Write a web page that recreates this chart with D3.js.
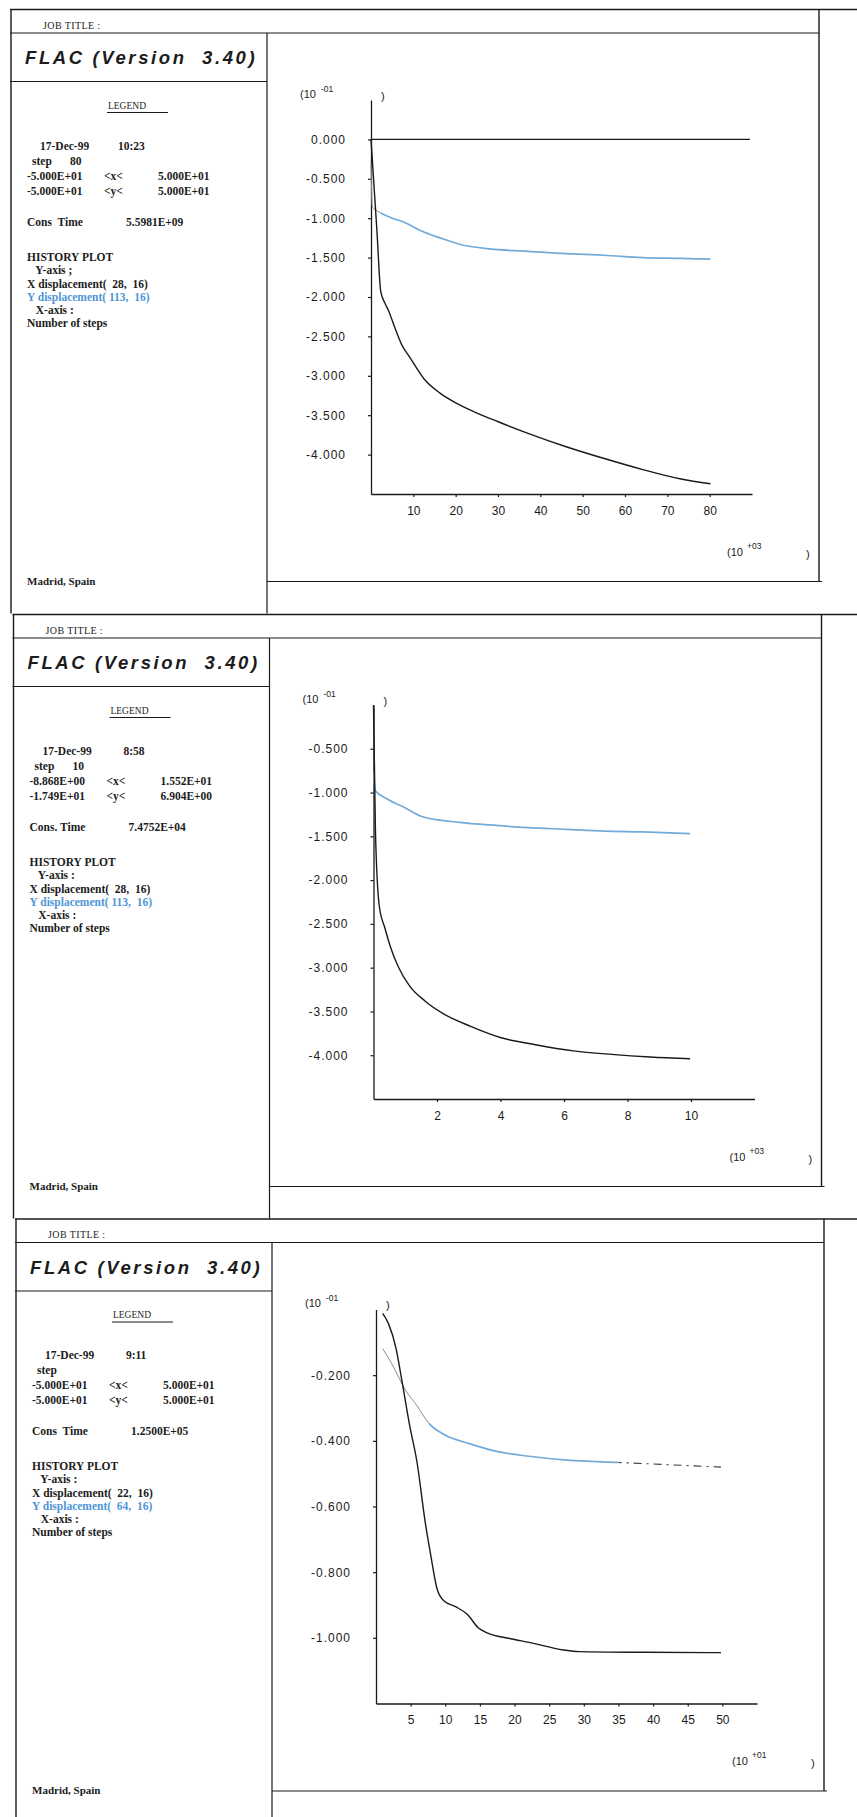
<!DOCTYPE html>
<html>
<head>
<meta charset="utf-8">
<script src="https://cdn.jsdelivr.net/npm/d3@7"></script>
<style>
  body { margin: 0; background: #fff; }
  svg text { font-family: "Liberation Serif", "DejaVu Serif", serif; fill: #151515; white-space: pre; }
  .ax text { font-family: "Liberation Sans", Arial, sans-serif; }
</style>
</head>
<body>
<svg id="chart" width="857" height="1817"></svg>
<script>
// ---- panel 1 : 17-Dec-99 10:23, steps x10^3
var p1XSteps = [0, 1.4, 2.3, 3.3, 4.2, 5.5, 7.3, 9.1, 12.7, 16.3, 19.9, 24.5, 29.9, 37.1, 46.1, 55.1, 64.2, 73.2, 80.2];
var p1XDisp  = [0, -1.16, -1.93, -2.08, -2.18, -2.37, -2.61, -2.76, -3.05, -3.22, -3.34, -3.46, -3.58, -3.73, -3.90, -4.05, -4.19, -4.31, -4.37];
var p1YSteps = [0, 0.3, 2.2, 4.6, 8.2, 11.8, 16.3, 20.9, 28.1, 37.1, 46.1, 55.1, 64.2, 73.2, 80.2];
var p1YDisp  = [-0.30, -0.85, -0.93, -0.99, -1.06, -1.16, -1.25, -1.33, -1.39, -1.42, -1.45, -1.47, -1.50, -1.51, -1.52];
var p1ZeroSteps = [0, 89.5];
var p1ZeroDisp  = [0, 0];
var p1XTicks = [10, 20, 30, 40, 50, 60, 70, 80];
var p1YTicks = [0, -0.5, -1, -1.5, -2, -2.5, -3, -3.5, -4];
var p1Info = ["17-Dec-99", "10:23", "80", "-5.000E+01", "5.000E+01", "-5.000E+01", "5.000E+01", "Cons  Time", "5.5981E+09", "Y-axis ;"];
var p1Zones = ["  28,", " 113,"];

// ---- panel 2 : 17-Dec-99 8:58, steps x10^3
var p2XSteps = [0, 0.06, 0.18, 0.36, 0.54, 0.78, 1.14, 1.62, 2.22, 3.06, 4.02, 5.1, 6.3, 7.5, 8.71, 9.97];
var p2XDisp  = [0, -1.42, -2.29, -2.55, -2.77, -2.99, -3.21, -3.38, -3.53, -3.67, -3.80, -3.88, -3.95, -3.99, -4.02, -4.04];
var p2YSteps = [0, 0.06, 0.42, 1.02, 1.5, 1.98, 2.7, 3.66, 4.86, 6.07, 7.27, 8.47, 9.97];
var p2YDisp  = [-0.78, -0.98, -1.07, -1.18, -1.27, -1.31, -1.34, -1.37, -1.40, -1.42, -1.44, -1.45, -1.47];
var p2XTicks = [2, 4, 6, 8, 10];
var p2YTicks = [-0.5, -1, -1.5, -2, -2.5, -3, -3.5, -4];
var p2Info = ["17-Dec-99", " 8:58", "10", "-8.868E+00", "1.552E+01", "-1.749E+01", "6.904E+00", "Cons. Time", "7.4752E+04", "Y-axis :"];
var p2Zones = ["  28,", " 113,"];

// ---- panel 3 : 17-Dec-99 9:11, steps x10^1
var p3XSteps = [0.96, 1.8, 2.9, 3.7, 4.85, 5.95, 7.07, 7.9, 8.84, 9.84, 11.5, 13.2, 14.8, 15.95, 19.3, 22.1, 27.1, 29.3, 38.7, 49.8];
var p3XDisp  = [-0.012, -0.043, -0.119, -0.212, -0.352, -0.469, -0.643, -0.748, -0.853, -0.888, -0.905, -0.929, -0.970, -0.984, -1.002, -1.014, -1.037, -1.042, -1.044, -1.045];
var p3YSteps = [0.96, 2.3, 4.3, 5.95, 7.6, 9.84, 13.7, 17.6, 22.1, 27.6, 35.1, 41.5, 49.8];
var p3YDisp  = [-0.119, -0.166, -0.247, -0.294, -0.346, -0.381, -0.410, -0.433, -0.447, -0.459, -0.466, -0.472, -0.480];
var p3XTicks = [5, 10, 15, 20, 25, 30, 35, 40, 45, 50];
var p3YTicks = [-0.2, -0.4, -0.6, -0.8, -1.0];
var p3Info = ["17-Dec-99", " 9:11", "", "-5.000E+01", "5.000E+01", "-5.000E+01", "5.000E+01", "Cons  Time", "1.2500E+05", "Y-axis :"];
var p3Zones = ["  22,", "  64,"];

var blue = "#72abd9";

var panels = [
  {top: 9.5,  off: 0,   xMax: 90, yDomain: [-4.5, 0.5], xTicks: p1XTicks, yTicks: p1YTicks, xExp: "+03",
   xs: p1XSteps, xd: p1XDisp, ys: p1YSteps, yd: p1YDisp, zs: p1ZeroSteps, zd: p1ZeroDisp,
   info: p1Info, zones: p1Zones, blueFrom: 2.2, blueTo: 81},
  {top: 614.5, off: 2.5, xMax: 12, yDomain: [-4.5, 0], xTicks: p2XTicks, yTicks: p2YTicks, xExp: "+03",
   xs: p2XSteps, xd: p2XDisp, ys: p2YSteps, yd: p2YDisp,
   info: p2Info, zones: p2Zones, blueFrom: 0, blueTo: 10.2},
  {top: 1219, off: 5,   xMax: 55, yDomain: [-1.2, 0], xTicks: p3XTicks, yTicks: p3YTicks, xExp: "+01",
   xs: p3XSteps, xd: p3XDisp, ys: p3YSteps, yd: p3YDisp,
   info: p3Info, zones: p3Zones, blueFrom: 7.6, blueTo: 35}
];

var svg = d3.select("#chart");
svg.append("rect").attr("width", 857).attr("height", 1817).attr("fill", "#fff");

panels.forEach(function(p, k){
  drawPanel(p, k);
});

function drawPanel(p, k){
  var g = svg.append("g").attr("transform", "translate(" + p.off + "," + p.top + ")");

  function line(x1, y1, x2, y2, w){
    g.append("line").attr("x1", x1).attr("y1", y1).attr("x2", x2).attr("y2", y2)
      .attr("stroke", "#1a1a1a").attr("stroke-width", w || 1.2);
  }
  function txt(x, y, s, size, color){
    return g.append("text").attr("x", x).attr("y", y).attr("font-size", size || 11.5)
      .attr("font-weight", "bold").style("fill", color || "#1c1c1c").text(s);
  }
  function sans(x, y, s, size){
    return g.append("text").attr("x", x).attr("y", y).attr("font-size", size)
      .style("font-family", "'Liberation Sans', Arial, sans-serif").style("fill", "#1a1a1a").text(s);
  }

  // frame
  line(10, 0, 860, 0, 1.4);
  line(10, 23.5, 819, 23.5);
  line(10, 72, 267, 72);
  line(11, 0, 11, 604, 1.4);
  line(267, 23.5, 267, 604);
  line(819, 0, 819, 572, 1.4);
  line(267, 572, 822, 572);

  // left box text
  txt(43, 19, "JOB TITLE :", 10).attr("font-weight", null).attr("letter-spacing", 0.4);
  txt(25, 54.5, "FLAC (Version  3.40)", 18.5)
    .style("font-family", "'Liberation Sans', Arial, sans-serif")
    .attr("font-style", "italic").attr("letter-spacing", 2.6);
  txt(108, 99, "LEGEND", 9.5).attr("font-weight", null);
  line(107, 103, 168, 103, 1);

  var inf = p.info;
  txt(40, 140, inf[0]); txt(118, 140, inf[1]);
  txt(32, 155, "step"); txt(70, 155, inf[2]);
  txt(27, 170, inf[3]); txt(104, 170, "<x<"); txt(158, 170, inf[4]);
  txt(27, 185, inf[5]); txt(104, 185, "<y<"); txt(158, 185, inf[6]);
  txt(27, 216, inf[7]); txt(126, 216, inf[8]);
  txt(27, 251, "HISTORY PLOT");
  txt(30, 264, "  " + inf[9]);
  txt(27, 278, "X displacement(" + p.zones[0] + "  16)");
  txt(27, 291, "Y displacement(" + p.zones[1] + "  16)", 11.5, "#4f95d6");
  txt(30, 304, "  X-axis :");
  txt(27, 317, "Number of steps");
  txt(27, 575, "Madrid, Spain", 11);

  // scales
  var xs = d3.scaleLinear().domain([0, p.xMax]).range([371, 752]);
  var ys = d3.scaleLinear().domain(p.yDomain).range([484.5, 90.5]);

  var fmt = d3.format(".3f");
  var yAxis = d3.axisLeft(ys).tickValues(p.yTicks).tickSize(3).tickSizeOuter(0).tickPadding(22)
    .tickFormat(function(d){ return fmt(d).replace("\u2212", "-"); });
  var xAxis = d3.axisBottom(xs).tickValues(p.xTicks).tickSize(3).tickSizeOuter(0).tickPadding(9)
    .tickFormat(d3.format("d"));

  var ya = g.append("g").attr("class", "ax").attr("transform", "translate(" + xs(0) + ",0)").call(yAxis);
  var xa = g.append("g").attr("class", "ax").attr("transform", "translate(0," + ys(p.yDomain[0]) + ")").call(xAxis);
  [ya, xa].forEach(function(a){
    a.attr("font-family", null).attr("font-size", null);
    a.select(".domain").attr("stroke", "#1a1a1a").attr("stroke-width", 1.3);
    a.selectAll(".tick line").attr("stroke", "#1a1a1a").attr("stroke-width", 1.2);
    a.selectAll(".tick text").attr("font-size", 12).style("fill", "#1a1a1a");
  });
  ya.selectAll(".tick text").attr("letter-spacing", 1);

  // exponent labels
  sans(300, 88, "(10", 11);
  sans(321, 82, "-01", 8.5);
  sans(381, 90, ")", 11);
  sans(727, 546, "(10", 11);
  sans(747, 539, p.xExp, 8.5);
  sans(806, 548, ")", 11);

  // curves
  var path = d3.line()
    .x(function(d){ return xs(d[0]); })
    .y(function(d){ return ys(d[1]); })
    .curve(d3.curveMonotoneX);

  if (p.zs) {
    g.append("path").attr("d", path(d3.zip(p.zs, p.zd)))
      .attr("fill", "none").attr("stroke", "#1a1a1a").attr("stroke-width", 1.3);
  }

  // Y displacement: grey before the blue stretch, blue in it, dash-dot after
  var yPts = d3.zip(p.ys, p.yd);
  var clips = [
    {id: "c" + k + "a", x0: 0, x1: xs(p.blueFrom), stroke: "#8a8a8a", w: 1, dash: null},
    {id: "c" + k + "b", x0: xs(p.blueFrom), x1: xs(p.blueTo), stroke: blue, w: 1.7, dash: null},
    {id: "c" + k + "c", x0: xs(p.blueTo), x1: 857, stroke: "#3a3a3a", w: 1.1, dash: "8,5,2,5"}
  ];
  clips.forEach(function(c){
    g.append("clipPath").attr("id", c.id).append("rect")
      .attr("x", c.x0).attr("y", 0).attr("width", Math.max(0, c.x1 - c.x0)).attr("height", 600);
    g.append("path").attr("d", path(yPts)).attr("clip-path", "url(#" + c.id + ")")
      .attr("fill", "none").attr("stroke", c.stroke).attr("stroke-width", c.w)
      .attr("stroke-dasharray", c.dash);
  });

  // X displacement
  g.append("path").attr("d", path(d3.zip(p.xs, p.xd)))
    .attr("fill", "none").attr("stroke", "#1a1a1a").attr("stroke-width", 1.4);
}
</script>
</body>
</html>
